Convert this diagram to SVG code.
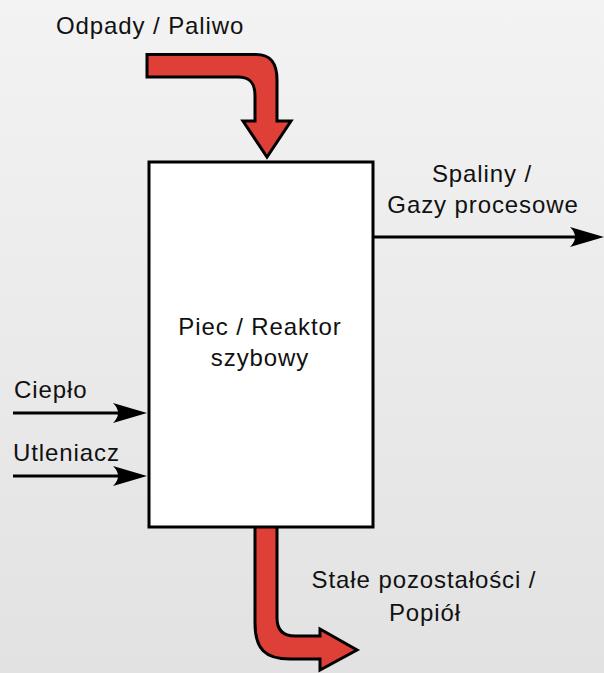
<svg xmlns="http://www.w3.org/2000/svg" width="604" height="673" viewBox="0 0 604 673">
  <defs>
    <linearGradient id="bg" x1="0" y1="0" x2="0" y2="1">
      <stop offset="0" stop-color="#f3f3f3"/>
      <stop offset="1" stop-color="#e2e2e2"/>
    </linearGradient>
    <marker id="head" viewBox="-36 -12 38 24" refX="-17" refY="0" markerWidth="38" markerHeight="24" markerUnits="userSpaceOnUse" orient="auto">
      <path d="M0,0 L-34,-10 Q-24,0 -34,10 Z" fill="#000"/>
    </marker>
    <style>
      .lbl { font-family: "Liberation Sans", Arial, sans-serif; font-size: 24px; letter-spacing: 0.9px; fill: #111; }
      .mid { text-anchor: middle; }
      .flow { fill: #de4037; stroke: #000; stroke-width: 3; stroke-linejoin: miter; }
      .line { fill: none; stroke: #000; stroke-width: 3; }
    </style>
  </defs>
  <rect x="0" y="0" width="604" height="673" fill="url(#bg)"/>

  <g id="connectors">
    <path id="in-fuel" class="flow" d="M147,54.5 L256,54.5 C270,54.5 277,62 277,80 L277,121 L291,121 L267,157 L243,121 L255,121 L255,96 C255,83 250,77 238,77 L147,77 Z"/>
    <path id="out-ash" class="flow" d="M255,526 L255,623 C255,649 265,659 290,659 L320,659 L320,670 L357,650 L320,629 L320,636 L295,636 C283,636 277,630 277,618 L277,526 Z"/>
    <path id="in-heat" class="line" d="M13,413 L130,413" marker-end="url(#head)"/>
    <path id="in-oxidizer" class="line" d="M13,476 L130,476" marker-end="url(#head)"/>
    <path id="out-gas" class="line" d="M374,237 L587,237" marker-end="url(#head)"/>
  </g>

  <g id="reactor">
    <rect x="149" y="162" width="224" height="365" fill="#fff" stroke="#000" stroke-width="3"/>
    <text class="lbl mid" x="260" y="335">Piec / Reaktor</text>
    <text class="lbl mid" x="260" y="366">szybowy</text>
  </g>

  <g id="fuel-label">
    <text class="lbl" x="56" y="34">Odpady / Paliwo</text>
  </g>
  <g id="gas-label">
    <text class="lbl mid" x="482" y="182">Spaliny /</text>
    <text class="lbl mid" x="483" y="213">Gazy procesowe</text>
  </g>
  <g id="heat-label">
    <text class="lbl" x="14" y="398">Ciepło</text>
  </g>
  <g id="oxidizer-label">
    <text class="lbl" x="13" y="461">Utleniacz</text>
  </g>
  <g id="ash-label">
    <text class="lbl mid" x="424" y="588">Stałe pozostałości /</text>
    <text class="lbl mid" x="425" y="621">Popiół</text>
  </g>
</svg>
